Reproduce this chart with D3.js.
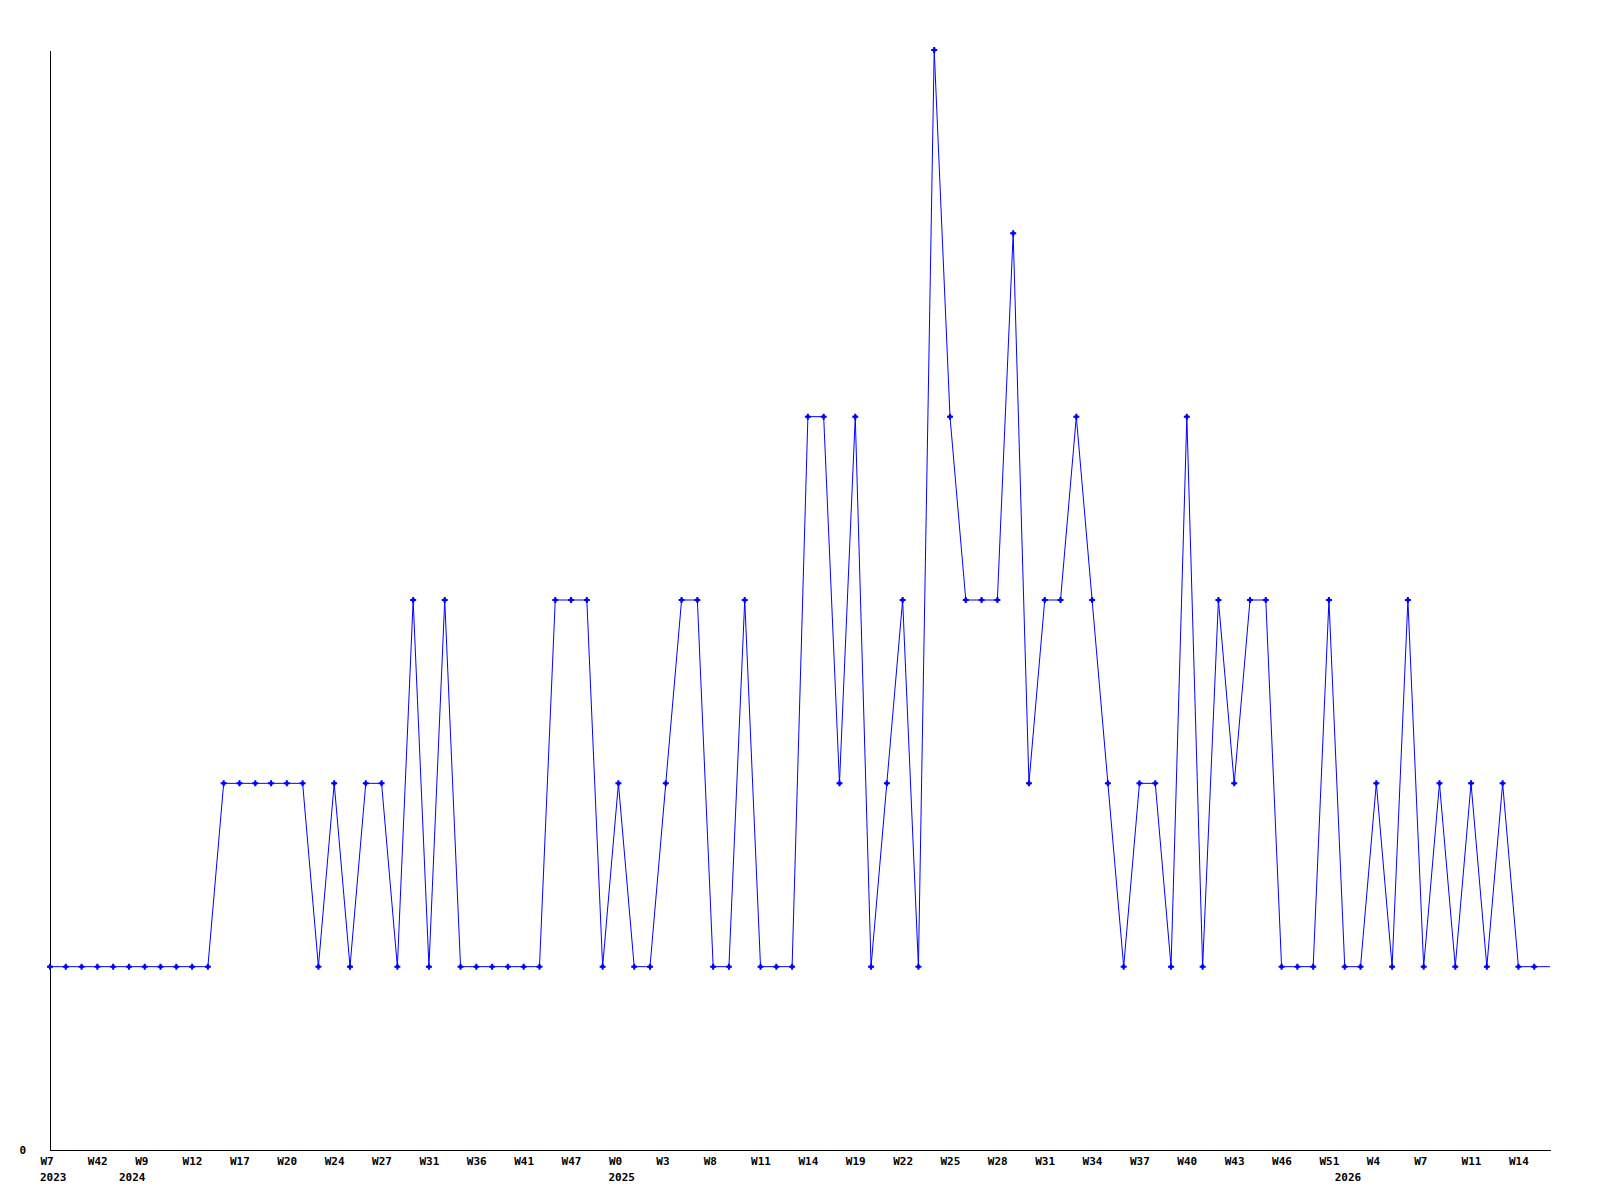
<!DOCTYPE html>
<html>
<head>
<meta charset="utf-8">
<script src="https://cdn.jsdelivr.net/npm/d3@7"></script>
<style>
  body { margin: 0; background: #fff; }
  .lbl { font-family: "DejaVu Sans Mono", monospace; font-weight: bold; font-size: 11px; fill: #000; }
</style>
</head>
<body>
<div id="chart"></div>
<script>

// weekly counts, one value per week (last one is the running week)
var counts = [
  1, 1, 1, 1, 1, 1, 1, 1, 1, 1, 1, 2, 2, 2, 2, 2,
  2, 1, 2, 1, 2, 2, 1, 3, 1, 3, 1, 1, 1, 1, 1, 1,
  3, 3, 3, 1, 2, 1, 1, 2, 3, 3, 1, 1, 3, 1, 1, 1,
  4, 4, 2, 4, 1, 2, 3, 1, 6, 4, 3, 3, 3, 5, 2, 3,
  3, 4, 3, 2, 1, 2, 2, 1, 4, 1, 3, 2, 3, 3, 1, 1,
  1, 3, 1, 1, 2, 1, 3, 1, 2, 1, 2, 1, 2, 1, 1, 1
]

// week labels, one on every 3rd week
var weekLabels = [
  "W7", "W42", "W9", "W12", "W17", "W20", "W24", "W27", "W31", "W36", "W41",
  "W47", "W0", "W3", "W8", "W11", "W14", "W19", "W22", "W25", "W28", "W31",
  "W34", "W37", "W40", "W43", "W46", "W51", "W4", "W7", "W11", "W14"
]
var labelEvery = 3

// year labels and the week index where they sit
var years = ["2023", "2024", "2025", "2026"]
var yearAt = [0, 5, 36, 82]

var yTicks = [0]
var yMax = 6

var config = {
  width: 1600,
  height: 1200,
  left: 50,
  right: 1550,
  top: 50,
  bottom: 1150
}

var svg = d3.select("#chart")
  .append("svg")
    .attr("width", config.width)
    .attr("height", config.height)

var x = d3.scaleLinear()
  .domain([0, counts.length - 1])
  .range([config.left, config.right])

var y = d3.scaleLinear()
  .domain([0, yMax])
  .range([config.bottom, config.top])

// x axis
var tickIdx = weekLabels.map(function(l, i){ return i * labelEvery })
var xAxis = d3.axisBottom(x)
  .tickValues(tickIdx)
  .tickFormat(function(d){ return weekLabels[d / labelEvery] })
  .tickSize(0)
  .tickSizeOuter(0)

var gx = svg.append("g")
  .attr("transform", "translate(0," + config.bottom + ")")
  .call(xAxis)
gx.select(".domain").attr("stroke", "#000").attr("shape-rendering", "crispEdges")
gx.selectAll(".tick text")
  .attr("class", "lbl")
  .attr("text-anchor", "start")
  .attr("x", -10)
  .attr("y", 15)
  .attr("dy", 0)

// year row
svg.append("g").selectAll("text")
    .data(years)
  .enter().append("text")
    .attr("class", "lbl")
    .attr("x", function(d, i){ return x(yearAt[i]) - 10 })
    .attr("y", config.bottom + 31)
    .text(function(d){ return d })

// y axis
var yAxis = d3.axisLeft(y)
  .tickValues(yTicks)
  .tickFormat(d3.format("d"))
  .tickSize(0)
  .tickSizeOuter(0)
  .tickPadding(24)

var gy = svg.append("g")
  .attr("transform", "translate(" + config.left + ",0)")
  .call(yAxis)
gy.select(".domain").attr("stroke", "#000").attr("shape-rendering", "crispEdges")
gy.selectAll(".tick text").attr("class", "lbl").attr("text-anchor", "end")

// the line
var line = d3.line()
  .x(function(d, i){ return x(i) })
  .y(function(d){ return y(d) })

svg.append("path")
  .datum(counts)
  .attr("fill", "none")
  .attr("stroke", "#0000ff")
  .attr("stroke-width", 1)
  .attr("d", line)

// markers, not on the running week
var marker = d3.symbol().type(d3.symbolCross).size(20)
var dots = svg.append("g").selectAll("g")
    .data(counts.slice(0, counts.length - 1))
  .enter().append("g")
    .attr("transform", function(d, i){ return "translate(" + x(i) + "," + y(d) + ")" })
dots.append("path")
    .attr("d", marker)
    .attr("fill", "#0000ff")
// thicker centre like the bitmap marker
dots.append("rect")
    .attr("x", -1.5).attr("y", -1.5)
    .attr("width", 3).attr("height", 3)
    .attr("fill", "#0000ff")

</script>
</body>
</html>
